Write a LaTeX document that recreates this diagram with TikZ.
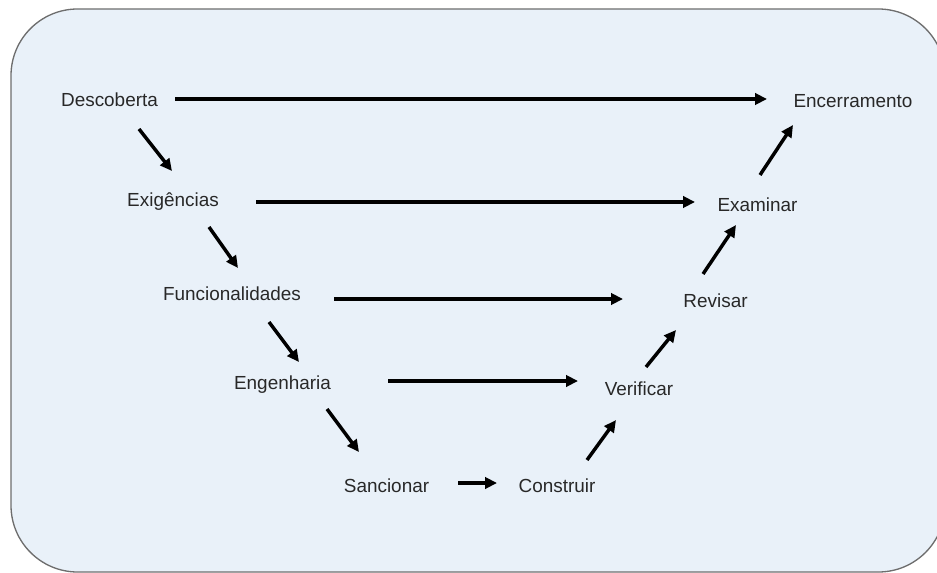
\documentclass[tikz,border=0pt]{standalone}
\usepackage{fontspec}
\setmainfont{Liberation Sans}
\usetikzlibrary{arrows.meta}
\definecolor{panelfill}{RGB}{233,241,249}
\definecolor{panelline}{RGB}{110,110,110}
\definecolor{labeltext}{RGB}{40,40,40}
\begin{document}
\begin{tikzpicture}[x=0.75pt,y=-0.75pt,
  phase/.style={anchor=base,inner sep=0pt,text=labeltext,font=\fontsize{14.2pt}{17pt}\selectfont},
  flow/.style={line width=2.6pt,-{Triangle[length=9pt,width=8.5pt]}}]
\useasboundingbox (0,0) rectangle (937,573);
\clip (0,0) rectangle (937,573);
% background panel
\draw[fill=panelfill,draw=panelline,line width=1pt,rounded corners=50pt]
  (11,9) rectangle (945,572);

% phases, left branch going down
\node[phase] (desc) at (109.5,107) {Descoberta};
\node[phase] (exig) at (173,207) {Exigências};
\node[phase] (func) at (232,300) {Funcionalidades};
\node[phase] (eng)  at (282.5,389) {Engenharia};
\node[phase] (sanc) at (386.5,492) {Sancionar};
% phases, right branch going up
\node[phase] (cons) at (557,492) {Construir};
\node[phase] (ver)  at (639,395) {Verificar};
\node[phase] (rev)  at (715.5,307) {Revisar};
\node[phase] (exam) at (757.5,212) {Examinar};
\node[phase] (enc)  at (853,108) {Encerramento};

% horizontal links
\draw[flow] ([shift={(65.5,-8)}]desc.base) -- ([shift={(-86,-9)}]enc.base);
\draw[flow] ([shift={(83,-5)}]exig.base) -- ([shift={(-62.5,-10)}]exam.base);
\draw[flow] ([shift={(102,-1)}]func.base) -- ([shift={(-92.5,-8)}]rev.base);
\draw[flow] ([shift={(105.5,-8)}]eng.base) -- ([shift={(-61,-14)}]ver.base);
\draw[flow] ([shift={(71.5,-9)}]sanc.base) -- ([shift={(-60,-9)}]cons.base);

% descending links
\draw[flow] ([shift={(29.5,22)}]desc.base) -- ([shift={(-1,-36)}]exig.base);
\draw[flow] ([shift={(36,20)}]exig.base) -- ([shift={(6,-32)}]func.base);
\draw[flow] ([shift={(37,22)}]func.base) -- ([shift={(16.5,-27)}]eng.base);
\draw[flow] ([shift={(44.5,20)}]eng.base) -- ([shift={(-27.5,-40)}]sanc.base);

% ascending links
\draw[flow] ([shift={(30,-32)}]cons.base) -- ([shift={(-23,25)}]ver.base);
\draw[flow] ([shift={(7,-28)}]ver.base) -- ([shift={(-39.5,23)}]rev.base);
\draw[flow] ([shift={(-12.5,-33)}]rev.base) -- ([shift={(-21.5,13)}]exam.base);
\draw[flow] ([shift={(2.5,-37)}]exam.base) -- ([shift={(-60,17)}]enc.base);
\end{tikzpicture}
\end{document}
